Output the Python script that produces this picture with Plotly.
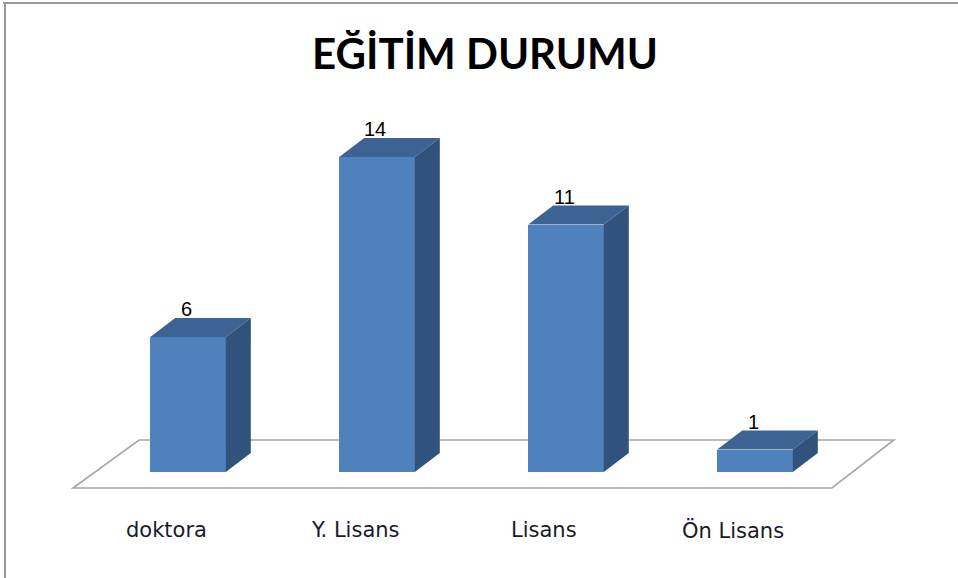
import plotly.graph_objects as go

categories = ["doktora", "Y. Lisans", "Lisans", "Ön Lisans"]
values = [6, 14, 11, 1]
title_text = "EĞİTİM DURUMU"

W, H = 958, 578
# axis geometry (pixel mapping)
x0_px, x_unit = 188.0, 189.0
y0_px, y_unit = 472.0, 22.5
x_range = [-x0_px / x_unit, (W - x0_px) / x_unit]
y_range = [-(H - y0_px) / y_unit, y0_px / y_unit]

bar_w = 0.40
dx = 25 / x_unit
dy = 19 / y_unit

front = "#4F81BD"
top_c = "#3C6393"
side_c = "#31527C"

xs = list(range(len(categories)))

fig = go.Figure()
fig.add_trace(go.Bar(x=xs, y=values, width=bar_w, marker=dict(color=front, line=dict(width=0)),
                     hoverinfo="skip"))

shapes = []
# floor (layout frame)
fl, fr, bl, br = -0.6085, 3.407, -0.259, 3.735
fy, by = -16 / y_unit, 32 / y_unit
shapes.append(dict(type="path", xref="x", yref="y", layer="below",
                   path=f"M{fl},{fy} L{fr},{fy} L{br},{by} L{bl},{by} Z",
                   line=dict(color="#A6A6A6", width=1.6), fillcolor="rgba(0,0,0,0)"))
for x, v in zip(xs, values):
    a, b = x - bar_w / 2, x + bar_w / 2
    shapes.append(dict(type="path", xref="x", yref="y", layer="above",
                       path=f"M{a},{v} L{a+dx},{v+dy} L{b+dx},{v+dy} L{b},{v} Z",
                       fillcolor=top_c, line=dict(width=0)))
    shapes.append(dict(type="path", xref="x", yref="y", layer="above",
                       path=f"M{b},0 L{b},{v} L{b+dx},{v+dy} L{b+dx},{dy} Z",
                       fillcolor=side_c, line=dict(width=0)))
# outer border (top and left)
shapes.append(dict(type="line", xref="paper", yref="paper", x0=3/W, x1=1, y0=1-3/H, y1=1-3/H,
                   line=dict(color="#9A9A9A", width=2)))
shapes.append(dict(type="line", xref="paper", yref="paper", x0=5/W, x1=5/W, y0=1-3/H, y1=0,
                   line=dict(color="#9A9A9A", width=2)))

annotations = []
for x, v in zip(xs, values):
    annotations.append(dict(x=x, y=v, xref="x", yref="y", text=str(v), showarrow=False,
                            xshift=-2, yshift=28, yanchor="middle",
                            font=dict(family="Liberation Sans", size=20, color="#000000")))
for x, c in zip(xs, categories):
    annotations.append(dict(x=x, y=-58 / y_unit, xref="x", yref="y", text=c, showarrow=False,
                            xshift=-22, yanchor="middle",
                            font=dict(family="DejaVu Sans", size=21, color="#1A1A2A")))
annotations.append(dict(x=485 / W, y=1 - 53 / H, xref="paper", yref="paper", text=f"<b>{title_text}</b>",
                        showarrow=False, xanchor="center", yanchor="middle",
                        font=dict(family="Lato", size=42, color="#000000")))

fig.update_layout(
    width=W, height=H, margin=dict(l=0, r=0, t=0, b=0),
    paper_bgcolor="white", plot_bgcolor="white", showlegend=False,
    xaxis=dict(range=x_range, visible=False, fixedrange=True),
    yaxis=dict(range=y_range, visible=False, fixedrange=True),
    shapes=shapes, annotations=annotations, bargap=0,
)
fig.write_html("out.html", config={"displayModeBar": False},
               post_script="document.body.style.margin='0';document.body.style.overflow='hidden';")
